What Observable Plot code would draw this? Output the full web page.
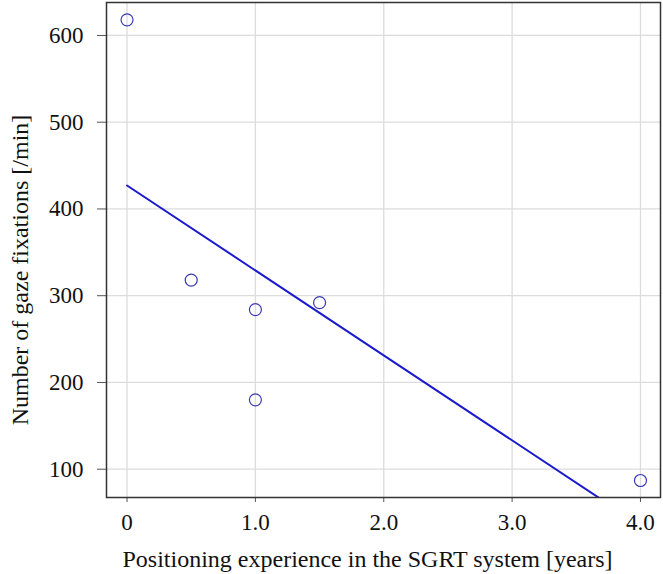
<!DOCTYPE html>
<html>
<head>
<meta charset="utf-8">
<script src="https://cdn.jsdelivr.net/npm/d3@7"></script>
<script src="https://cdn.jsdelivr.net/npm/@observablehq/plot@0.6"></script>
<style>
  html, body { margin: 0; padding: 0; background: #fff; }
  svg text { font-family: 'Liberation Serif', 'Times New Roman', serif; }
</style>
</head>
<body>
<div id="chart"></div>
<script>
const experienceYears = [0, 0.5, 1.0, 1.0, 1.5, 4.0];
const gazeFixations = [618, 318, 284, 180, 292, 87];
const xTicks = [0, 1, 2, 3, 4];
const xTickLabels = ["0", "1.0", "2.0", "3.0", "4.0"];
const yTicks = [100, 200, 300, 400, 500, 600];
const xTitle = ["Positioning experience in the SGRT system [years]"];
const yTitle = ["Number of gaze fixations [/min]"];

const data = experienceYears.map((x, i) => ({x, y: gazeFixations[i]}));
const serif = "'Liberation Serif', 'Times New Roman', serif";

const chart = Plot.plot({
  width: 663,
  height: 574,
  marginLeft: 106,
  marginTop: 2,
  marginRight: 3,
  marginBottom: 77,
  style: {fontFamily: serif, fontSize: "23px", color: "#111", background: "#fff"},
  x: {domain: [-0.16, 4.156]},
  y: {domain: [67.4, 638]},
  marks: [
    Plot.gridX(xTicks, {stroke: "#dcdcdc", strokeOpacity: 1, strokeWidth: 1.3}),
    Plot.gridY(yTicks, {stroke: "#dcdcdc", strokeOpacity: 1, strokeWidth: 1.3}),
    Plot.axisX(xTicks, {
      tickSize: 5, tickPadding: 11, stroke: "#555",
      tickFormat: (d, i) => xTickLabels[i],
      fontFamily: serif, fontSize: 23,
      label: null
    }),
    Plot.axisY(yTicks, {
      tickSize: 9, tickPadding: 14, stroke: "#555",
      fontFamily: serif, fontSize: 23,
      label: null
    }),
    Plot.text(xTitle, {
      frameAnchor: "bottom", dy: 62, dx: -16, lineAnchor: "middle", textAnchor: "middle",
      fontFamily: serif, fontSize: 24, fill: "#111"
    }),
    Plot.text(yTitle, {
      frameAnchor: "left", dx: -86, dy: 20, rotate: -90, lineAnchor: "middle", textAnchor: "middle",
      fontFamily: serif, fontSize: 24, fill: "#111"
    }),
    Plot.linearRegressionY(data, {x: "x", y: "y", stroke: "#1a1acc", strokeWidth: 2, ci: 0, clip: true}),
    Plot.dot(data, {x: "x", y: "y", r: 6, stroke: "#3a3ab4", strokeWidth: 1.2, fill: "none"}),
    Plot.frame({stroke: "#333", strokeWidth: 1.5})
  ]
});
document.getElementById("chart").appendChild(chart);
</script>
</body>
</html>
